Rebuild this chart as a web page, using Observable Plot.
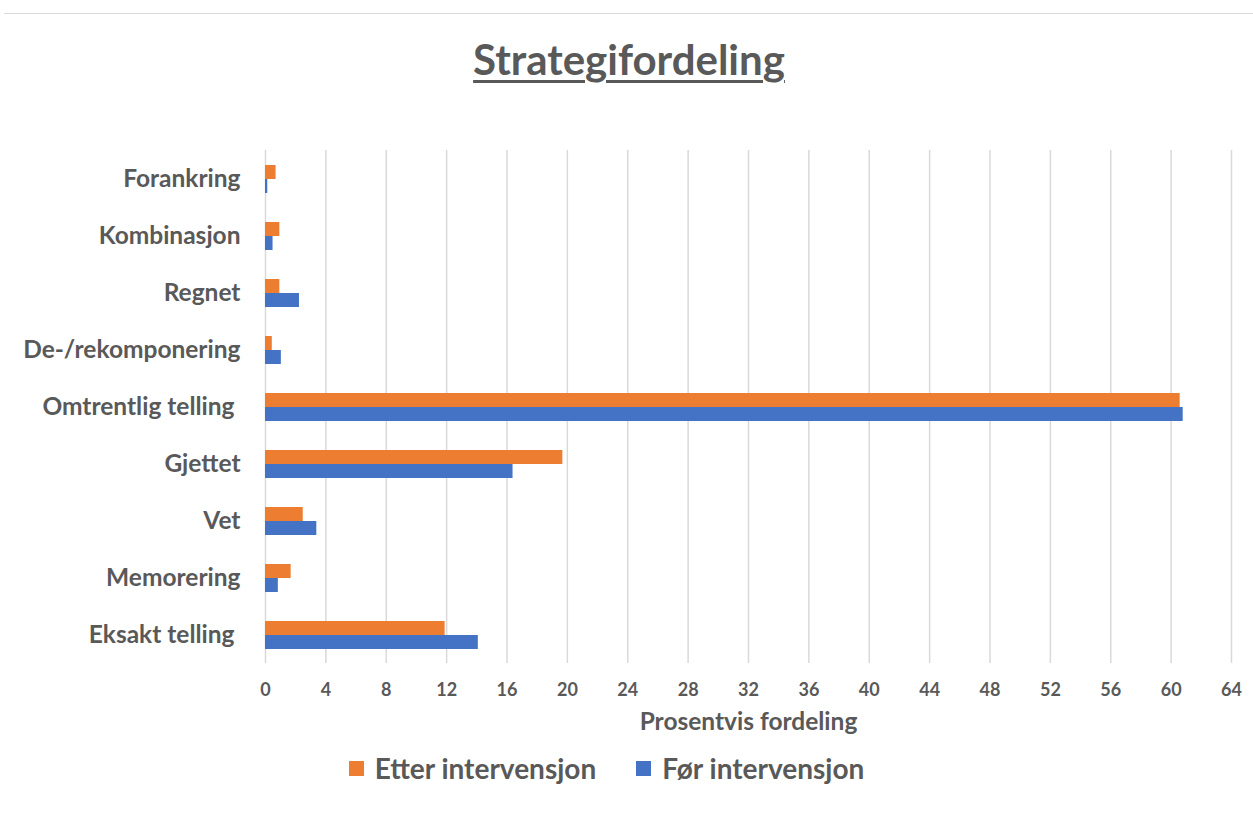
<!DOCTYPE html>
<html><head><meta charset="utf-8">
<script src="https://cdn.jsdelivr.net/npm/d3@7"></script>
<script src="https://cdn.jsdelivr.net/npm/@observablehq/plot@0.6"></script>
<style>
body{margin:0;background:#fff;font-family:Lato,"Open Sans",sans-serif;color:#595959;width:1253px;height:817px;overflow:hidden;position:relative}
#topline{position:absolute;left:4px;right:0;top:13px;height:0;border-top:1.5px solid #dcdcdc}
#title{position:absolute;left:0;width:1258px;top:34px;text-align:center;font-size:42px;line-height:50px;font-weight:bold;text-decoration:underline;text-decoration-thickness:3px;text-underline-offset:5px;color:#595959}
#chart{position:absolute;left:0;top:110px}
#legend{position:absolute;left:0;width:1213px;top:751px;display:flex;justify-content:center;gap:40px;font-size:28px;font-weight:bold;color:#595959}
.item{display:flex;align-items:center;gap:11px}
.sw{width:15px;height:15px;display:inline-block}
</style></head>
<body>
<div id="topline"></div>
<div id="title">Strategifordeling</div>
<div id="chart"></div>
<div id="legend"></div>
<script>
const categories = ["Forankring","Kombinasjon","Regnet","De-/rekomponering","Omtrentlig telling ","Gjettet","Vet","Memorering","Eksakt telling "];
const series = ["Etter intervensjon","Før intervensjon"];
const colors = ["#ED7D31","#4472C4"];
const etter = [0.7,0.95,0.95,0.45,60.6,19.7,2.5,1.7,11.9];
const foer = [0.15,0.5,2.25,1.05,60.8,16.4,3.4,0.85,14.1];
const xTicks = [0,4,8,12,16,20,24,28,32,36,40,44,48,52,56,60,64];
const xLabel = "Prosentvis fordeling";

const data = categories.flatMap((c,i)=>[
  {category:c, series:series[0], value:etter[i]},
  {category:c, series:series[1], value:foer[i]}
]);

const chart = Plot.plot({
  width:1253, height:630,
  marginTop:38, marginBottom:76, marginLeft:265, marginRight:22,
  style:{fontFamily:"Lato, 'Open Sans', sans-serif", color:"#595959", background:"white"},
  x:{domain:[0,64]},
  y:{domain:series, paddingInner:0, paddingOuter:0.98, axis:null},
  fy:{domain:categories, padding:0},
  color:{domain:series, range:colors},
  marks:[
    Plot.ruleX(xTicks, {stroke:"#d9d9d9", strokeWidth:1.5}),
    Plot.barX(data, {x:"value", y:"series", fy:"category", fill:"series"}),
    Plot.axisX({ticks:xTicks, tickSize:0, tickPadding:20, fontSize:18, fontWeight:"bold", label:null}),
    Plot.axisX({ticks:[], tickSize:0, fontSize:24.5, fontWeight:"bold", label:xLabel, labelAnchor:"center", labelArrow:"none", labelOffset:66}),
    Plot.axisFy({anchor:"left", tickSize:0, tickPadding:25, fontSize:24.5, fontWeight:"bold", label:null})
  ]
});
document.getElementById("chart").appendChild(chart);

const lg = document.getElementById("legend");
series.forEach((s,i)=>{
  const it = document.createElement("div"); it.className="item";
  const sw = document.createElement("span"); sw.className="sw"; sw.style.background=colors[i];
  const t = document.createElement("span"); t.textContent=s;
  it.appendChild(sw); it.appendChild(t); lg.appendChild(it);
});
</script>
</body></html>
